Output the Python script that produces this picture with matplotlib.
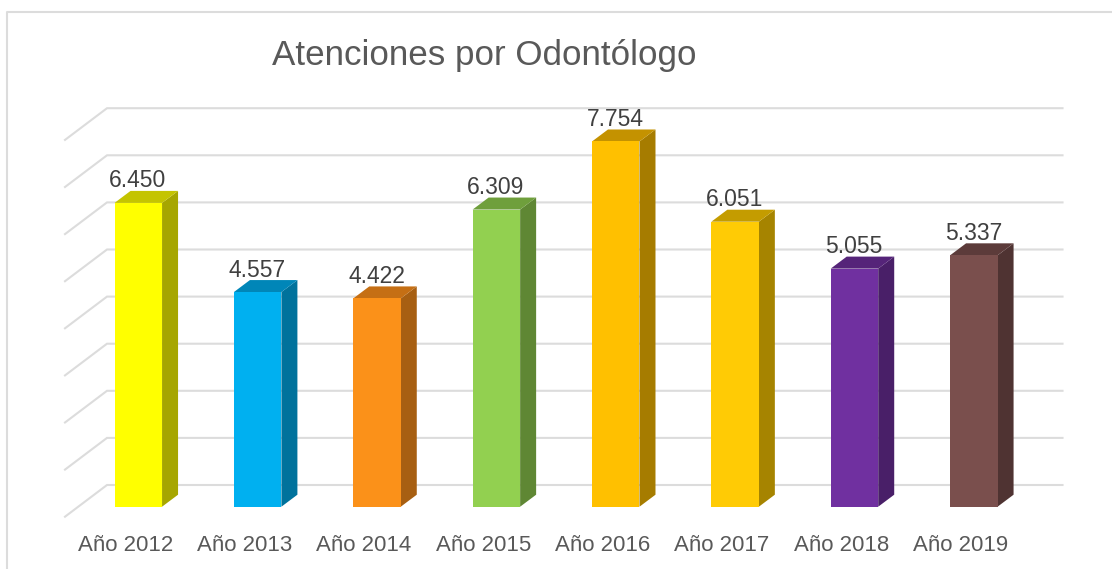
import matplotlib
matplotlib.use("Agg")
import matplotlib.pyplot as plt
from matplotlib.patches import Polygon
from matplotlib.lines import Line2D
from matplotlib.transforms import ScaledTranslation

years = ["Año 2012", "Año 2013", "Año 2014", "Año 2015", "Año 2016", "Año 2017", "Año 2018", "Año 2019"]
values = [6450, 4557, 4422, 6309, 7754, 6051, 5055, 5337]
labels = ["6.450", "4.557", "4.422", "6.309", "7.754", "6.051", "5.055", "5.337"]
front_colors = ["#ffff00", "#00b0f0", "#fb9119", "#92d050", "#ffc000", "#ffcb05", "#7030a0", "#7a4f4d"]
side_colors = ["#a6a600", "#00729c", "#a75f12", "#5f8734", "#a67c00", "#a68400", "#491f68", "#4f3332"]
top_colors = ["#c4c400", "#0086b8", "#c56f14", "#6f9f3c", "#c49200", "#c49c00", "#552479", "#5c3b3a"]
grid_levels = [0, 1000, 2000, 3000, 4000, 5000, 6000, 7000, 8000]

W, H = 1112, 569
X0, DX = 138.3, 119.36      # px of first bar centre, px per category
Y0, PX_PER_UNIT = 506.7, 0.0471
BAR_W = 47.5
DEPTH_X, DEPTH_Y = 16.0, 12.0

fig = plt.figure(figsize=(W / 100, H / 100), dpi=100, facecolor="white")
plt.rcParams["font.family"] = ["Liberation Sans", "DejaVu Sans"]
ax = fig.add_axes([0, (H - Y0) / H, 1, Y0 / H])
ax.set_xlim(-X0 / DX, (W - X0) / DX)
ax.set_ylim(0, Y0 / PX_PER_UNIT)
ax.patch.set_visible(False)
for s in ax.spines.values():
    s.set_visible(False)
ax.set_yticks([])

dx = DEPTH_X / DX
dy = DEPTH_Y / PX_PER_UNIT
px_x = 1 / DX
px_y = 1 / PX_PER_UNIT
idx = list(range(len(years)))

# gridlines: back wall plus diagonal side wall
back_left = (107 - X0) * px_x
back_right = (1062.5 - X0) * px_x
diag_left = (65 - X0) * px_x
back_up = (Y0 - 485) * px_y
diag_down = (516.7 - Y0) * px_y
for g in grid_levels:
    ax.plot([diag_left, back_left, back_right],
            [g - diag_down, g + back_up, g + back_up],
            color="#dcdcdc", lw=1.5, zorder=1, clip_on=False, solid_joinstyle="miter")

# bars
w = BAR_W / DX
ax.bar(idx, values, width=w, color=front_colors, linewidth=0, zorder=3)
for i, v, sc, tc in zip(idx, values, side_colors, top_colors):
    r = i + w / 2
    l = i - w / 2
    ax.add_patch(Polygon([(r, 0), (r + dx, dy), (r + dx, v + dy), (r, v)],
                         closed=True, facecolor=sc, edgecolor="none", zorder=2.5))
    ax.add_patch(Polygon([(l, v), (r, v), (r + dx, v + dy), (l + dx, v + dy)],
                         closed=True, facecolor=tc, edgecolor="none", zorder=2.5))

# value labels
for i, v, t in zip(idx, values, labels):
    ax.annotate(t, (i, v), xytext=(-0.4, 22 * 0.72), textcoords="offset points",
                ha="center", va="center", fontsize=16.5, color="#404040", zorder=5)

# category labels
ax.set_xticks(idx)
ax.set_xticklabels(years, fontsize=16, color="#595959")
ax.tick_params(axis="x", length=0, pad=20.5)
shift = ScaledTranslation(-13 / 100, 0, fig.dpi_scale_trans)
for lbl in ax.get_xticklabels():
    lbl.set_transform(lbl.get_transform() + shift)

# title
fig.text(484 / W, 1 - 55 / H, "Atenciones por Odontólogo", ha="center", va="center",
         fontsize=25.2, color="#595959")

# chart frame
fig.add_artist(Line2D([7 / W, 7 / W, 1], [0, 1 - 12 / H, 1 - 12 / H], color="#dcdcdc", lw=1.5,
                      transform=fig.transFigure))

fig.savefig("out.png", dpi=100, facecolor="white")
